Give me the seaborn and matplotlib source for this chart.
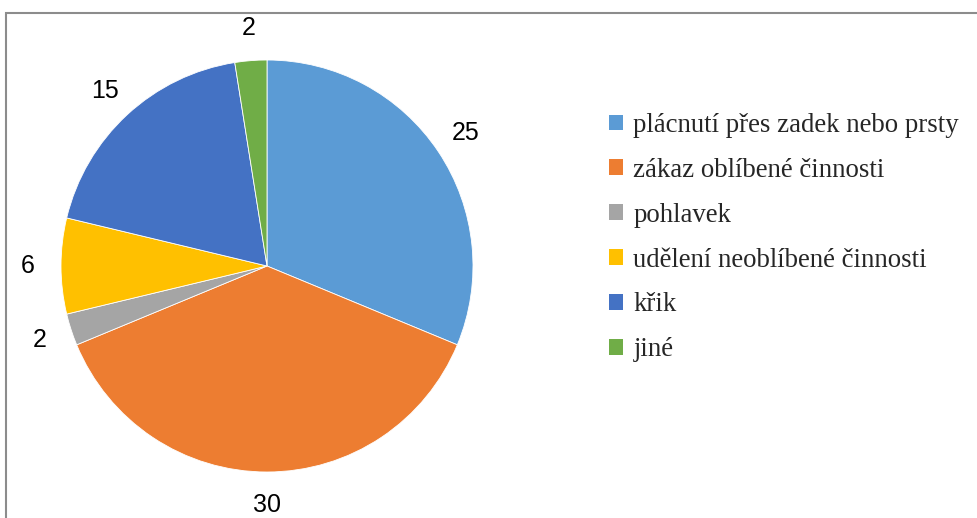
import matplotlib.pyplot as plt
import seaborn as sns
from matplotlib.patches import Patch, Rectangle

# Data
categories = ['plácnutí přes zadek nebo prsty', 'zákaz oblíbené činnosti', 'pohlavek',
              'udělení neoblíbené činnosti', 'křik', 'jiné']
values = [25, 30, 2, 6, 15, 2]
colors = ['#5B9BD5', '#ED7D31', '#A5A5A5', '#FFC000', '#4472C4', '#70AD47']

sns.set_theme(style='white')
plt.rcParams['font.family'] = ['Liberation Sans', 'DejaVu Sans']

fig = plt.figure(figsize=(9.78, 5.18), dpi=100)
fig.patch.set_facecolor('white')

# chart frame (extends past the bottom/right of the image)
fig.patches.append(Rectangle((5.5 / 978, -0.1), 1.1, (518 - 12.5) / 518 + 0.1,
                             transform=fig.transFigure, fill=False,
                             edgecolor='#8c8c8c', linewidth=1.5))

# pie: centre ~(267, 266) px, radius ~206 px
ax = fig.add_axes([61 / 978, 46 / 518, 412 / 978, 412 / 518])
wedges, texts = ax.pie(values, colors=colors, startangle=90, counterclock=False,
                       labels=[str(v) for v in values], labeldistance=1.16,
                       wedgeprops=dict(edgecolor='white', linewidth=0.6),
                       textprops=dict(fontsize=18, color='black'))
for t in texts:
    t.set_horizontalalignment('center')
    t.set_verticalalignment('center')
ax.set_xlim(-1, 1)
ax.set_ylim(-1, 1)
ax.set_aspect('equal')

handles = [Patch(facecolor=c, edgecolor='none') for c in colors]
fig.legend(handles, categories, loc='upper left', bbox_to_anchor=(609 / 978, 1 - 113 / 518),
           frameon=False, handlelength=0.53, handleheight=0.53, handletextpad=0.38,
           labelspacing=0.74, borderpad=0, borderaxespad=0,
           prop=dict(family='Liberation Serif', size=19.3))

plt.savefig('out.png', dpi=100, facecolor='white')
